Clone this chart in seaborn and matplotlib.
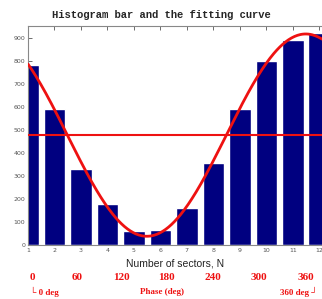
import numpy as np
import pandas as pd
import matplotlib
matplotlib.use("Agg")
import matplotlib.pyplot as plt
import seaborn as sns

sectors = [1, 2, 3, 4, 5, 6, 7, 8, 9, 10, 11, 12]
counts = [780, 590, 330, 180, 60, 65, 160, 355, 590, 800, 890, 920]
yticks = [0, 100, 200, 300, 400, 500, 600, 700, 800, 900]
phase_labels = ["0", "60", "120", "180", "240", "300", "360"]

sns.set_style("white")
plt.rcParams['font.family'] = ['DejaVu Sans']

fig = plt.figure(figsize=(3.22, 2.99), dpi=100)
W, H = 322, 299
ax = fig.add_axes([28 / W, 1 - 245 / H, (322 - 28) / W, (245 - 26) / H])

df = pd.DataFrame({"N": sectors, "count": counts})
ax.bar(df["N"], df["count"], width=0.82, color="#000080", zorder=2)

# least-squares sinusoid fit (period = 12 sectors)
x = np.array(sectors, dtype=float)
y = np.array(counts, dtype=float)
w = 2 * np.pi / 12
A = np.column_stack([np.ones_like(x), np.cos(w * x), np.sin(w * x)])
coef, *_ = np.linalg.lstsq(A, y, rcond=None)
xf = np.linspace(1, 12.1, 300)
yf = coef[0] + coef[1] * np.cos(w * xf) + coef[2] * np.sin(w * xf)
sns.lineplot(x=xf, y=yf, ax=ax, color="#ee1111", linewidth=2, zorder=3)
ax.axhline(np.mean(y), color="#ee1111", linewidth=1.5, zorder=3)

ax.set_xlim(1, 12.1)
ax.set_ylim(0, 950)
ax.set_xticks(sectors)
ax.set_xticklabels([str(s) for s in sectors])
ax.set_yticks(yticks)
ax.tick_params(axis="both", direction="in", length=3, labelsize=4.5,
               labelcolor="#555555", color="#555555", width=0.6, pad=2)
ax.tick_params(axis="x", top=True)
ax.tick_params(axis="y", left=True, right=False)
for s in ["left", "top", "bottom"]:
    ax.spines[s].set_color("#888888")
    ax.spines[s].set_linewidth(0.8)
ax.spines["right"].set_visible(False)

ax.set_xlabel("Number of sectors, N", fontsize=7.5, labelpad=4, color="#222222",
              family=["Liberation Sans", "DejaVu Sans"])
fig.text(0.5, 1 - 15 / H, "Histogram bar and the fitting curve",
         ha="center", va="center", fontsize=7.6, fontweight="bold",
         family=["Liberation Mono", "DejaVu Sans Mono"])

px = [32, 77, 121, 166, 213, 259, 306]
for p, lab in zip(px, phase_labels):
    fig.text(p / W, 1 - 277 / H, lab, ha="center", va="center", fontsize=8,
             fontweight="bold", color="#ee1111",
             family=["Liberation Serif", "DejaVu Serif"])
fam2 = ["Liberation Serif", "DejaVu Serif"]
fig.text(30 / W, 1 - 292 / H, "\u2514 0 deg", ha="left", va="center", fontsize=6.5,
         fontweight="bold", color="#ee1111", family=fam2)
fig.text(162 / W, 1 - 292 / H, "Phase (deg)", ha="center", va="center", fontsize=6.5,
         fontweight="bold", color="#ee1111", family=fam2)
fig.text(318 / W, 1 - 292 / H, "360 deg \u2518", ha="right", va="center", fontsize=6.5,
         fontweight="bold", color="#ee1111", family=fam2)

fig.savefig("out.png", dpi=100)
